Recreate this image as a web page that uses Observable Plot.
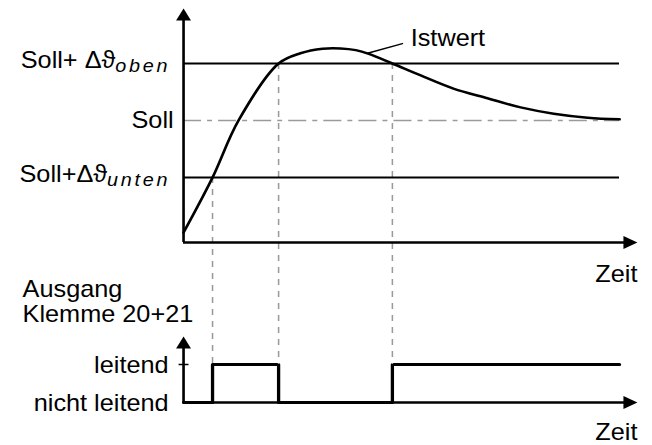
<!DOCTYPE html>
<html><head><meta charset="utf-8">
<script src="https://cdn.jsdelivr.net/npm/d3@7"></script>
<script src="https://cdn.jsdelivr.net/npm/@observablehq/plot@0.6"></script>
<style>
body{margin:0;background:#fff;}
#chart{position:relative;width:652px;height:445px;overflow:hidden;background:#fff;}
#chart svg{position:absolute;left:0;top:0;width:652px;height:445px;}
</style></head><body><div id="chart"></div>
<script>
// ---------- data ----------
const istTime  = [0, 6.65, 12.6, 21.8, 26.8, 31.9, 36.0, 39.5, 42.5, 47.9, 54.4, 61.9, 69.7, 77.3, 84.9, 92.7, 100];
const istValue = [-1.965, -1.0, 0, 1.0, 1.18, 1.26, 1.265, 1.235, 1.17, 1.0, 0.79, 0.56, 0.39, 0.23, 0.12, 0.05, 0.02];
const limitValues = [1, -1];
const limitLabels = ["Soll+ Δϑ_oben", "Soll+Δϑ_unten"];
const setpointValue = 0;
const setpointLabel = "Soll";
const switchTimes = [6.65, 21.8, 47.9];
const switchLevels = [-1, 1, 1];
const outputTimes = [0, 6.65, 21.8, 47.9, 100];
const outputStates = [0, 1, 0, 1, 1];
const stateValues = [1, 0];
const stateLabels = ["leitend", "nicht leitend"];
const timeEnd = 100;
const timeAxisEnd = 104.1;
const tempAxisMin = -2.14;
const tempAxisMax = 1.965;
const stateAxisMax = 1.74;
const istwertLabel = "Istwert";
const istwertLabelPos = [52.1, 1.44];
const leaderTime = [42.2, 50.2];
const leaderValue = [1.18, 1.35];
const timeLabel = "Zeit";
const outputTitle = "Ausgang\nKlemme 20+21";

// ---------- layout ----------
const Wsvg = 593;
const stretch = 652 / Wsvg;
const font = "'Liberation Sans', Arial, Helvetica, sans-serif";
const gray = "#9a9a9a";
const xOpt = {domain: [0, timeEnd], range: [183 / stretch, 619 / stretch], axis: null};
const topY = {domain: [-1, 1], range: [177, 63]};
const botY = {domain: [0, 1], range: [402, 364]};
// the dashed guides run down to the "leitend" level of the lower panel
const guideBottom = d3.scaleLinear(topY.domain, topY.range).invert(d3.scaleLinear(botY.domain, botY.range)(1));

const upHead = {draw(c){c.moveTo(0,0);c.lineTo(6.8,12);c.lineTo(-6.8,12);c.closePath();}};
const rightHead = {draw(c){c.moveTo(0,0);c.lineTo(-12.7,6.5);c.lineTo(-12.7,-6.5);c.closePath();}};
const hTick = {draw(c){c.moveTo(-4.5,0);c.lineTo(4.5,0);}};

const ist = istTime.map((t, i) => ({t, v: istValue[i]}));
const switches = switchTimes.map((t, i) => ({t, v: switchLevels[i]}));
const limits = limitValues.map((v, i) => ({v, label: limitLabels[i]}));
const output = outputTimes.map((t, i) => ({t, s: outputStates[i]}));
const states = stateValues.map((s, i) => ({s, label: stateLabels[i]}));
const leader = leaderTime.map((t, i) => ({t, v: leaderValue[i]}));

const topPlot = Plot.plot({
  width: Wsvg, height: 445,
  marginTop: 0, marginBottom: 0, marginLeft: 183 / stretch, marginRight: 10,
  x: xOpt,
  y: {...topY, axis: null},
  style: {fontFamily: font, background: "transparent"},
  marks: [
    Plot.ruleY([setpointValue], {x1: 0, x2: timeEnd, stroke: gray, strokeWidth: 1.5, strokeDasharray: "16.4,5.5,4.5,5.5"}),
    Plot.ruleX(switches, {x: "t", y1: "v", y2: () => guideBottom, stroke: gray, strokeWidth: 1.4, strokeDasharray: "6,6"}),
    Plot.ruleY(limits, {y: "v", x1: 0, x2: timeEnd, stroke: "black", strokeWidth: 2}),
    Plot.ruleX([0], {y1: tempAxisMin, y2: tempAxisMax - 0.1, stroke: "black", strokeWidth: 2.4}),
    Plot.ruleY([tempAxisMin], {x1: 0, x2: timeAxisEnd - 1.5, stroke: "black", strokeWidth: 2.5}),
    Plot.line(ist, {x: "t", y: "v", curve: "catmull-rom", stroke: "black", strokeWidth: 2.5}),
    Plot.line(leader, {x: "t", y: "v", stroke: "black", strokeWidth: 1.4}),
    Plot.dot([{t: 0, v: tempAxisMax}], {x: "t", y: "v", symbol: upHead, fill: "black", stroke: "none"}),
    Plot.dot([{t: timeAxisEnd, v: tempAxisMin}], {x: "t", y: "v", symbol: rightHead, fill: "black", stroke: "none"}),
    Plot.text(limits, {x: () => 0, y: "v", text: "label", textAnchor: "end", dx: -12, dy: -2.4, fontSize: 23, fill: "black"}),
    Plot.text([{v: setpointValue, label: setpointLabel}], {x: () => 0, y: "v", text: "label", textAnchor: "end", dx: -9, dy: 0, fontSize: 23, fill: "black"}),
    Plot.text([{t: istwertLabelPos[0], v: istwertLabelPos[1], label: istwertLabel}], {x: "t", y: "v", text: "label", textAnchor: "start", fontSize: 23, fill: "black"}),
    Plot.text([{t: timeAxisEnd, v: tempAxisMin, label: timeLabel}], {x: "t", y: "v", text: "label", textAnchor: "end", dy: 32, fontSize: 23, fill: "black"})
  ]
});

const bottomPlot = Plot.plot({
  width: Wsvg, height: 445,
  marginTop: 0, marginBottom: 0, marginLeft: 183 / stretch, marginRight: 10,
  x: xOpt,
  y: {...botY, axis: null},
  style: {fontFamily: font, background: "transparent"},
  marks: [
    Plot.ruleX([0], {y1: 0, y2: stateAxisMax - 0.15, stroke: "black", strokeWidth: 2.4}),
    Plot.ruleY([0], {x1: 0, x2: timeAxisEnd - 1.5, stroke: "black", strokeWidth: 2.5}),
    Plot.dot([{t: 0, s: 1}], {x: "t", y: "s", symbol: hTick, stroke: "black", strokeWidth: 1.5, fill: "none"}),
    Plot.line(output, {x: "t", y: "s", curve: "step-after", stroke: "black", strokeWidth: 3}),
    Plot.dot([{t: 0, s: stateAxisMax}], {x: "t", y: "s", symbol: upHead, fill: "black", stroke: "none"}),
    Plot.dot([{t: timeAxisEnd, s: 0}], {x: "t", y: "s", symbol: rightHead, fill: "black", stroke: "none"}),
    Plot.text(states, {x: () => 0, y: "s", text: "label", textAnchor: "end", dx: -13.6, dy: 1, fontSize: 23, fill: "black"}),
    Plot.text([{t: 0, s: stateAxisMax, label: outputTitle}], {x: "t", y: "s", text: "label", textAnchor: "start", lineAnchor: "top", lineHeight: 1.087, dx: -146.4, dy: -57.3, fontSize: 23, fill: "black"}),
    Plot.text([{t: timeAxisEnd, s: 0, label: timeLabel}], {x: "t", y: "s", text: "label", textAnchor: "end", dy: 30, fontSize: 23, fill: "black"})
  ]
});

function subscripts(svg) {
  d3.select(svg).selectAll("text").each(function() {
    const txt = this.textContent;
    if (!txt.includes("_")) return;
    const [main, sub] = txt.split("_");
    const el = d3.select(this);
    el.text(null);
    el.append("tspan").text(main);
    el.append("tspan").attr("dy", 4).attr("font-size", 18).attr("font-style", "italic")
      .attr("letter-spacing", 2.5).text(sub);
  });
}

for (const svg of [bottomPlot, topPlot]) {
  svg.setAttribute("preserveAspectRatio", "none");
  svg.setAttribute("width", 652);
  svg.setAttribute("height", 445);
  subscripts(svg);
  document.getElementById("chart").appendChild(svg);
}
</script></body></html>
